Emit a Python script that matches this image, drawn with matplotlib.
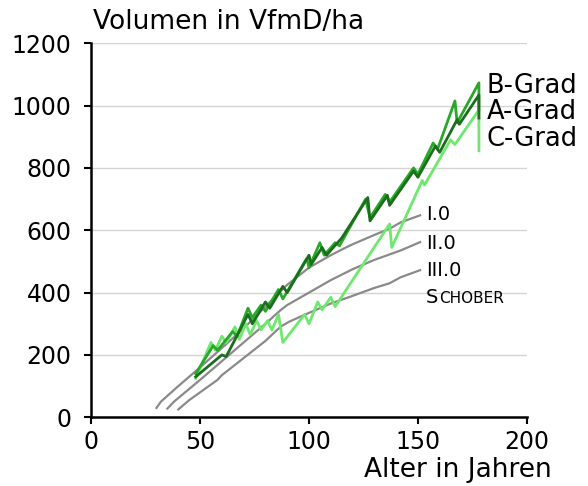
import matplotlib
matplotlib.use("Agg")
import matplotlib.pyplot as plt
from matplotlib.transforms import offset_copy

plt.rcParams['font.family'] = ['DejaVu Sans']

# Yield-table curves (Schober)
age_I = [30, 32, 40, 50, 59, 70, 80, 87, 90, 100, 110, 117, 120, 130, 137, 142, 151]
vol_I = [30, 50, 100, 160, 216, 285, 355, 405, 425, 480, 520, 545, 555, 585, 605, 625, 648]
age_II = [35, 38, 50, 60, 70, 80, 87, 90, 100, 110, 120, 130, 142, 151]
vol_II = [28, 50, 120, 180, 240, 300, 344, 360, 400, 440, 475, 505, 535, 562]
age_III = [40, 45, 50, 58, 60, 70, 80, 87, 91, 100, 110, 119, 130, 137, 142, 151]
vol_III = [25, 55, 80, 120, 135, 190, 245, 291, 307, 335, 365, 387, 415, 430, 449, 472]

# Stand development by grade
age_A = [48, 60, 62, 72, 74, 80, 82, 88, 90, 100, 101, 106, 108, 115, 127, 128, 136, 137,
         148, 150, 158, 160, 168, 169, 178, 178]
vol_A = [130, 200, 195, 330, 300, 370, 350, 420, 400, 520, 490, 545, 520, 575, 705, 630, 712, 680,
         790, 770, 870, 850, 955, 940, 1034, 960]
age_B = [48, 56, 58, 65, 67, 72, 74, 78, 80, 86, 88, 99, 100, 105, 107, 112, 114, 126, 128,
         135, 137, 148, 150, 157, 159, 167, 168, 178, 178]
vol_B = [140, 230, 215, 275, 260, 350, 320, 360, 340, 410, 380, 510, 480, 560, 520, 560, 550, 700, 640,
         715, 690, 800, 780, 880, 860, 1015, 945, 1073, 990]
age_C = [48, 55, 57, 60, 62, 66, 68, 71, 73, 76, 78, 81, 83, 86, 88, 98, 100, 104, 106, 110, 112,
         137, 138, 152, 153, 165, 167, 178, 178]
vol_C = [125, 240, 215, 260, 240, 290, 250, 300, 265, 310, 280, 310, 280, 330, 240, 330, 300, 370, 345,
         385, 355, 620, 545, 760, 745, 890, 875, 986, 855]

grade_labels = ['B-Grad', 'A-Grad', 'C-Grad']
grade_label_y = [1063, 979, 893]
table_labels = ['I.0', 'II.0', 'III.0']
table_label_y = [649, 559, 472]

xticks = [0, 50, 100, 150, 200]
yticks = [0, 200, 400, 600, 800, 1000, 1200]

fig = plt.figure(figsize=(5.88, 4.86), dpi=100)
ax = fig.add_axes([0.155, 0.1414, 0.741, 0.7696])
ax.set_xlim(0, 200)
ax.set_ylim(0, 1200)

for y in yticks[1:]:
    ax.axhline(y, color='#d4d4d4', lw=1.0, zorder=0)

gray = '#8a8a8a'
ax.plot(age_I, vol_I, color=gray, lw=1.6, zorder=2)
ax.plot(age_II, vol_II, color=gray, lw=1.6, zorder=2)
ax.plot(age_III, vol_III, color=gray, lw=1.6, zorder=2)

ax.plot(age_C, vol_C, color='#6ee86e', lw=2.0, zorder=3)
ax.plot(age_B, vol_B, color='#28a828', lw=2.0, zorder=4)
ax.plot(age_A, vol_A, color='#1b6e1b', lw=2.0, zorder=5)

for lab, y in zip(grade_labels, grade_label_y):
    ax.text(181.4, y, lab, fontsize=18.5, va='center', ha='left', clip_on=False)
for lab, y in zip(table_labels, table_label_y):
    ax.text(153.8, y, lab, fontsize=14, va='center', ha='left', clip_on=False)
ax.text(153.8, 385, 'S', fontsize=14, va='center', ha='left', clip_on=False)
ax.text(153.8, 385, 'CHOBER', fontsize=11, va='center', ha='left', clip_on=False,
        transform=offset_copy(ax.transData, fig=fig, x=9.6, y=-0.6, units='points'))

ax.set_xticks(xticks)
ax.set_yticks(yticks)
ax.tick_params(axis='both', labelsize=17, direction='out', length=5, width=1.5, color='black')
ax.tick_params(axis='y', pad=9)
ax.tick_params(axis='x', pad=4)
for s in ['top', 'right']:
    ax.spines[s].set_visible(False)
for s in ['left', 'bottom']:
    ax.spines[s].set_linewidth(1.8)

fig.text(93 / 588, 1 - 22 / 486, 'Volumen in VfmD/ha', fontsize=19, ha='left', va='center')
fig.text(552 / 588, 1 - 470 / 486, 'Alter in Jahren', fontsize=19, ha='right', va='center')

fig.savefig('out.png', dpi=100)
